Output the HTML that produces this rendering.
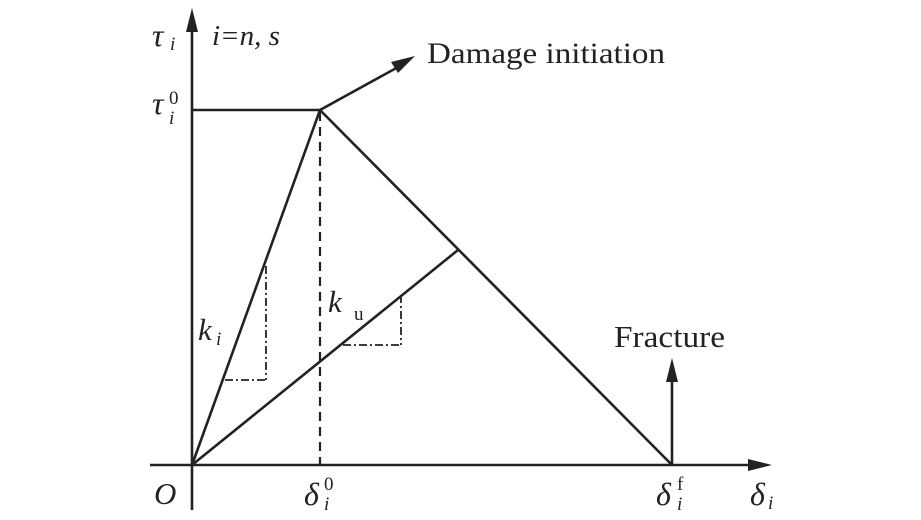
<!DOCTYPE html>
<html><head><meta charset="utf-8"><style>
html,body{margin:0;padding:0;background:#fff;}
svg{display:block;}
text{font-family:"Liberation Serif",serif;fill:#222;}
.i{font-style:italic;}
</style></head><body>
<svg width="921" height="520" viewBox="0 0 921 520" xmlns="http://www.w3.org/2000/svg">
<g stroke="#222" stroke-width="2.6" fill="none">
<line x1="192" y1="510" x2="192" y2="28"/>
<line x1="150" y1="465" x2="752" y2="465"/>
<line x1="192" y1="110" x2="320" y2="110"/>
<line x1="192" y1="465" x2="320" y2="110"/>
<line x1="320" y1="110" x2="672" y2="465"/>
<line x1="192" y1="465" x2="458" y2="250"/>
<line x1="320" y1="110" x2="400" y2="66"/>
<line x1="672" y1="465" x2="672" y2="378"/>
<line x1="320" y1="112" x2="320" y2="465" stroke-dasharray="9,6" stroke-width="2.2"/>
<g stroke-width="1.8" stroke-dasharray="8,3,2,3">
<line x1="266" y1="266" x2="266" y2="380"/>
<line x1="225" y1="380" x2="266" y2="380"/>
<line x1="401" y1="295" x2="401" y2="345"/>
<line x1="343" y1="345" x2="401" y2="345"/>
</g>
</g>
<g fill="#222">
<polygon points="192,8 186,32 198,32"/>
<polygon points="772,465 748,459 748,471"/>
<polygon points="672,358 666,382 678,382"/>
<polygon points="415,56 391,62 398,73"/>
</g>
<text x="152" y="46" font-size="32" class="i">τ</text>
<text x="170" y="50" font-size="19" class="i">i</text>
<text x="212" y="45" font-size="29" class="i">i=n, s</text>
<text x="427" y="63" font-size="30" textLength="238" lengthAdjust="spacingAndGlyphs">Damage initiation</text>
<text x="614" y="347" font-size="31" textLength="111" lengthAdjust="spacingAndGlyphs">Fracture</text>
<text x="152" y="114" font-size="32" class="i">τ</text>
<text x="169" y="104" font-size="19">0</text>
<text x="169" y="124" font-size="19" class="i">i</text>
<text x="198" y="340" font-size="31" class="i">k</text>
<text x="216" y="345" font-size="19" class="i">i</text>
<text x="328" y="312" font-size="31" class="i">k</text>
<text x="354" y="320" font-size="19">u</text>
<text x="154" y="504" font-size="31" class="i">O</text>
<text x="304" y="505" font-size="32" class="i">δ</text>
<text x="324" y="490" font-size="19">0</text>
<text x="324" y="510" font-size="19" class="i">i</text>
<text x="656" y="505" font-size="32" class="i">δ</text>
<text x="677" y="490" font-size="19">f</text>
<text x="677" y="510" font-size="19" class="i">i</text>
<text x="750" y="505" font-size="32" class="i">δ</text>
<text x="768" y="509" font-size="19" class="i">i</text>
</svg>
</body></html>
